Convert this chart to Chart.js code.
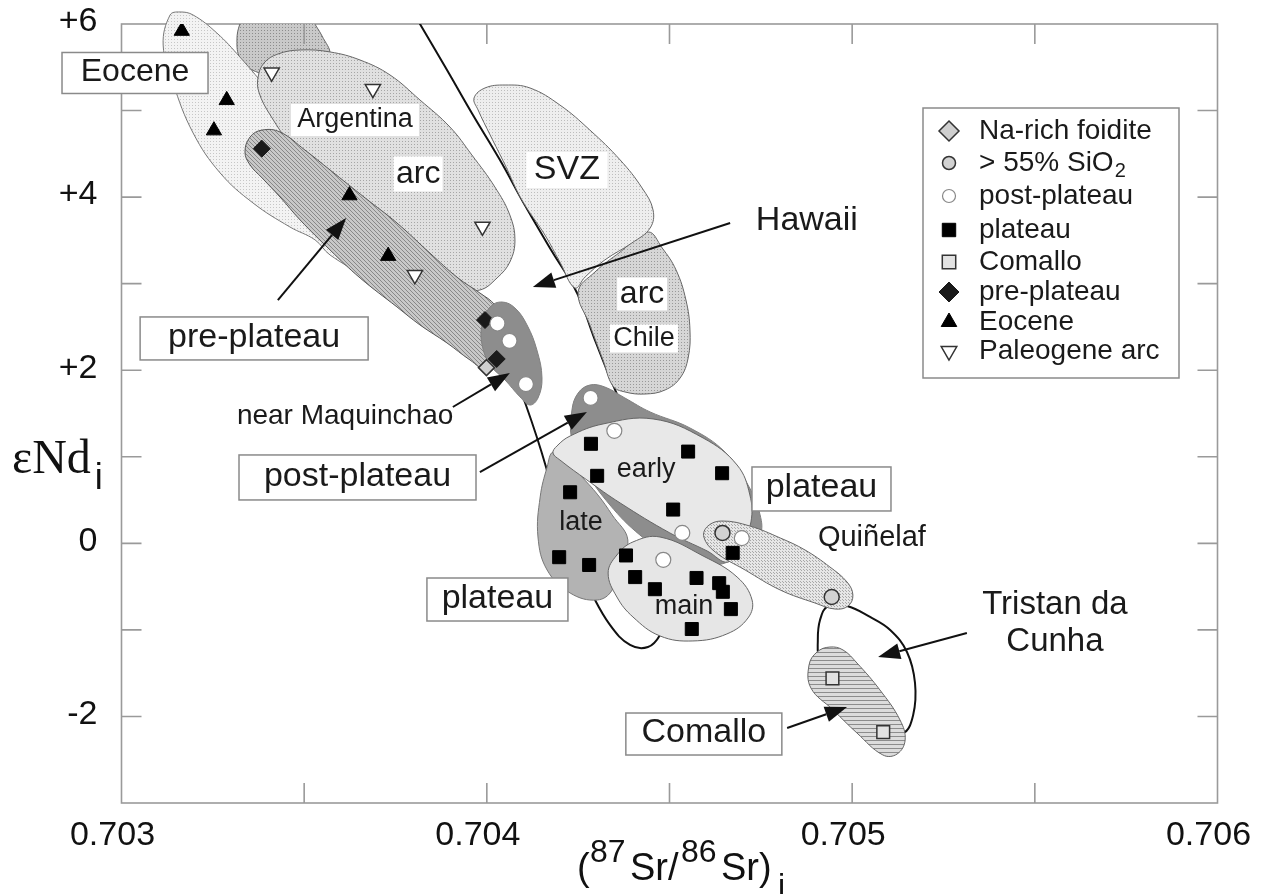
<!DOCTYPE html>
<html>
<head>
<meta charset="utf-8">
<script src="https://cdn.jsdelivr.net/npm/chart.js@4.4.0/dist/chart.umd.min.js"></script>
<style>
  html, body { margin: 0; padding: 0; background: #fff; }
  #wrap { width: 1267px; height: 894px; }
</style>
</head>
<body>
<div id="wrap"><canvas id="c" width="1267" height="894"></canvas></div>
<script>
// ---------- axis ticks ----------
const xTickValues = [0.703, 0.7035, 0.704, 0.7045, 0.705, 0.7055, 0.706];
const xTickLabeled = [0.703, 0.704, 0.705, 0.706];
const yTickValues = [-3, -2, -1, 0, 1, 2, 3, 4, 5, 6];
const yTickLabeled = [-2, 0, 2, 4, 6];

// ---------- samples: (87Sr/86Sr)i and eNd_i ----------
const eoceneSr = [0.703165, 0.703288, 0.703253, 0.703624, 0.70373];
const eoceneNd = [5.92, 5.12, 4.77, 4.02, 3.32];
const paleogeneArcSr = [0.703411, 0.703688, 0.703803, 0.703988];
const paleogeneArcNd = [5.44, 5.25, 3.10, 3.66];
const prePlateauSr = [0.703384, 0.703995, 0.704027];
const prePlateauNd = [4.56, 2.58, 2.13];
const foiditeSr = [0.703999];
const foiditeNd = [2.03];
const postPlateauSr = [0.704029, 0.704062, 0.704107, 0.704284, 0.704349, 0.704535, 0.704483, 0.704698];
const postPlateauNd = [2.54, 2.34, 1.84, 1.68, 1.30, 0.12, -0.19, 0.06];
const silicicSr = [0.704645, 0.704944];
const silicicNd = [0.12, -0.62];
const plateauSr = [0.704285, 0.704551, 0.704302, 0.704644, 0.704228, 0.70451, 0.704673, 0.704198, 0.70428,
                   0.704381, 0.704406, 0.70446, 0.704574, 0.704636, 0.704646, 0.704668, 0.704561];
const plateauNd = [1.15, 1.06, 0.78, 0.81, 0.59, 0.39, -0.11, -0.16, -0.25,
                   -0.14, -0.39, -0.53, -0.40, -0.46, -0.56, -0.76, -0.99];
const comalloSr = [0.704946, 0.705085];
const comalloNd = [-1.56, -2.18];

// ---------- field outlines ----------
const hawaiiSr = [0.703448, 0.703448, 0.703461, 0.703516, 0.703653, 0.703817, 0.703968, 0.704063, 0.704107, 0.704162,
                  0.704214, 0.704282, 0.704337, 0.704392, 0.704441, 0.704474, 0.704529, 0.704501, 0.704433, 0.70437,
                  0.704343, 0.704296, 0.704247, 0.704176, 0.704104, 0.704036, 0.703962, 0.703891, 0.703817, 0.703762];
const hawaiiNd = [6.393, 6.000, 5.642, 5.180, 4.429, 3.562, 2.696, 2.061, 1.598, 0.882,
                  0.039, -0.539, -0.943, -1.174, -1.198, -1.059, -0.539, 0.270, 1.078, 1.598,
                  1.853, 2.349, 2.892, 3.389, 3.909, 4.429, 4.949, 5.469, 6.000, 6.393];
const upperFieldSr = [0.703344, 0.703324, 0.703316, 0.703324, 0.703357, 0.703434, 0.703543, 0.703571, 0.703549, 0.703524, 0.703516];
const upperFieldNd = [6.162, 6.000, 5.815, 5.607, 5.469, 5.399, 5.469, 5.642, 5.861, 6.046, 6.185];
const eoceneFieldSr = [0.703133, 0.70316, 0.703196, 0.703261, 0.703324, 0.703406, 0.703516, 0.703625, 0.703721, 0.703757,
                       0.703735, 0.703667, 0.703571, 0.70353, 0.703461, 0.70336, 0.70327, 0.703196, 0.703141, 0.703114];
const eoceneFieldNd = [6.104, 6.139, 6.104, 5.896, 5.619, 5.214, 4.660, 4.082, 3.505, 3.181,
                       3.008, 3.100, 3.331, 3.505, 3.655, 3.932, 4.279, 4.741, 5.318, 5.757];
const argArcSr = [0.703374, 0.70339, 0.703428, 0.703489, 0.703571, 0.703653, 0.703735, 0.703817, 0.703899, 0.703959,
                  0.704022, 0.704063, 0.704077, 0.704063, 0.704028, 0.703981, 0.703927, 0.703817, 0.703708, 0.703584,
                  0.703475, 0.703407, 0.703376];
const argArcNd = [5.388, 5.549, 5.653, 5.700, 5.677, 5.584, 5.411, 5.122, 4.810, 4.487,
                  4.117, 3.793, 3.505, 3.250, 3.066, 2.927, 2.962, 3.250, 3.597, 4.082,
                  4.544, 4.949, 5.214];
const chileArcSr = [0.70425, 0.704296, 0.704365, 0.704441, 0.70448, 0.704518, 0.704545, 0.704556,
                    0.704551, 0.704529, 0.704488, 0.704433, 0.704378, 0.704345, 0.704318, 0.704282];
const chileArcNd = [2.904, 3.135, 3.366, 3.597, 3.412, 3.158, 2.811, 2.465,
                    2.141, 1.910, 1.772, 1.725, 1.749, 1.818, 2.118, 2.523];
const svzSr = [0.703965, 0.703995, 0.70405, 0.704118, 0.7042, 0.704282, 0.704365, 0.704425, 0.704455, 0.704447,
               0.704397, 0.704323, 0.704269, 0.704241, 0.7042, 0.704159, 0.704096, 0.70405, 0.704009, 0.703976];
const svzNd = [5.145, 5.261, 5.295, 5.261, 5.064, 4.775, 4.429, 4.105, 3.851, 3.643,
               3.470, 3.274, 3.077, 2.950, 3.250, 3.562, 3.967, 4.371, 4.718, 5.007];
const preFieldSr = [0.703338, 0.703352, 0.703385, 0.703434, 0.703502, 0.703571, 0.703667, 0.703754, 0.703844, 0.703921,
                    0.703981, 0.704022, 0.70405, 0.704036, 0.704001, 0.703954, 0.703891, 0.703817, 0.703754, 0.703653,
                    0.703571, 0.703489, 0.703434, 0.703385, 0.703352];
const preFieldNd = [4.521, 4.695, 4.775, 4.752, 4.544, 4.313, 3.990, 3.701, 3.354, 3.066,
                    2.892, 2.754, 2.523, 2.176, 2.003, 2.118, 2.315, 2.523, 2.731, 3.066,
                    3.389, 3.736, 4.001, 4.221, 4.371];
const maqFieldSr = [0.704009, 0.704042, 0.704077, 0.70411, 0.704137, 0.704151, 0.70414, 0.704118, 0.704091, 0.70405,
                    0.704009, 0.703987, 0.703987];
const maqFieldNd = [2.731, 2.788, 2.719, 2.523, 2.234, 1.910, 1.679, 1.598, 1.691, 1.887,
                    2.061, 2.292, 2.523];
const postFieldSr = [0.704233, 0.70425, 0.704282, 0.704323, 0.704378, 0.704447, 0.704556, 0.704652, 0.704715, 0.704748,
                     0.704748, 0.704707, 0.704652, 0.704583, 0.704501, 0.704419, 0.704337, 0.704269, 0.704233];
const postFieldNd = [1.541, 1.737, 1.829, 1.806, 1.679, 1.518, 1.333, 1.055, 0.674, 0.328,
                     0.096, -0.077, -0.227, -0.250, -0.135, 0.096, 0.443, 0.847, 1.194];
const lateSr = [0.704181, 0.704165, 0.704146, 0.70414, 0.704165, 0.704228, 0.704302, 0.704343, 0.704359, 0.704386,
                0.704343, 0.704304, 0.704255, 0.704214];
const lateNd = [1.055, 0.882, 0.536, 0.073, -0.308, -0.574, -0.655, -0.539, -0.250, 0.039,
                0.328, 0.559, 0.790, 0.963];
const earlySr = [0.704181, 0.704192, 0.704228, 0.704318, 0.704455, 0.704592, 0.704685, 0.70472, 0.704723, 0.704698,
                 0.70466, 0.704603, 0.704501, 0.704365, 0.704274, 0.7042];
const earlyNd = [1.044, 1.125, 1.240, 1.379, 1.437, 1.217, 0.905, 0.559, 0.247, 0.004,
                 -0.216, -0.088, 0.120, 0.466, 0.732, 0.963];
const mainSr = [0.704332, 0.704356, 0.7044, 0.704474, 0.704592, 0.704685, 0.704726, 0.704715, 0.704657, 0.704564,
                0.704474, 0.7044, 0.704356];
const mainNd = [-0.343, -0.135, 0.016, 0.073, -0.146, -0.389, -0.655, -0.862, -1.047, -1.128,
                -1.070, -0.851, -0.620];
const tristanSr = [0.704934, 0.704986, 0.705049, 0.705104, 0.70515, 0.705172, 0.705167, 0.705139, 0.705076, 0.70498,
                   0.704912, 0.704906, 0.704912];
const tristanNd = [-0.724, -0.724, -0.851, -1.001, -1.255, -1.613, -1.983, -2.191, -2.099, -1.752,
                   -1.348, -1.117, -0.886];
const quinelafSr = [0.704594, 0.704605, 0.704644, 0.70472, 0.704803, 0.704871, 0.704939, 0.704986, 0.705002, 0.704989,
                    0.704953, 0.704898, 0.704803, 0.704707, 0.704625];
const quinelafNd = [0.073, 0.200, 0.258, 0.200, 0.062, -0.077, -0.273, -0.447, -0.597, -0.724,
                    -0.759, -0.689, -0.539, -0.308, -0.100];
const comalloFieldSr = [0.704939, 0.704904, 0.704882, 0.704887, 0.704948, 0.705013, 0.705084, 0.705123, 0.705145, 0.705131,
                        0.705076, 0.705013, 0.704975];
const comalloFieldNd = [-1.198, -1.255, -1.405, -1.671, -1.925, -2.191, -2.445, -2.434, -2.272, -2.041,
                        -1.694, -1.382, -1.232];

// ---------- annotations (positions in data units) ----------
const boxedLabels = [
  { text: 'Eocene',       at: [0.703037, 5.434],  size: 32, w: 146, h: 41 },
  { text: 'pre-plateau',  at: [0.703363, 2.367],  size: 34, w: 228, h: 43 },
  { text: 'post-plateau', at: [0.703646, 0.761],  size: 34, w: 237, h: 45 },
  { text: 'plateau',      at: [0.704916, 0.628],  size: 34, w: 139, h: 44 },
  { text: 'plateau',      at: [0.704029, -0.649], size: 34, w: 141, h: 43 },
  { text: 'Comallo',      at: [0.704594, -2.203], size: 34, w: 156, h: 42 }
];
const plainLabels = [
  { text: 'Argentina',       at: [0.703639, 4.891],  size: 27, bg: [128, 32] },
  { text: 'arc',             at: [0.703812, 4.267],  size: 32, bg: [49, 35] },
  { text: 'SVZ',             at: [0.704219, 4.313],  size: 34, bg: [81, 36] },
  { text: 'Hawaii',          at: [0.704876, 3.724],  size: 34 },
  { text: 'arc',             at: [0.704425, 2.881],  size: 32, bg: [50, 33] },
  { text: 'Chile',           at: [0.70443, 2.366],   size: 27, bg: [68, 28] },
  { text: 'near Maquinchao', at: [0.703612, 1.471],  size: 28 },
  { text: 'early',           at: [0.704436, 0.847],  size: 27 },
  { text: 'late',            at: [0.704258, 0.235],  size: 27 },
  { text: 'main',            at: [0.70454, -0.735],  size: 27 },
  { text: 'Quiñelaf',        at: [0.705054, 0.062],  size: 29 },
  { text: 'Tristan da',      at: [0.705555, -0.712], size: 33 },
  { text: 'Cunha',           at: [0.705555, -1.140], size: 33 }
];
const arrows = [
  { from: [0.703428, 2.811],  to: [0.703615, 3.759] },
  { from: [0.704666, 3.701],  to: [0.704126, 2.962] },
  { from: [0.703907, 1.575],  to: [0.704063, 1.968] },
  { from: [0.703981, 0.824],  to: [0.704274, 1.518] },
  { from: [0.705314, -1.036], to: [0.705071, -1.313] },
  { from: [0.704822, -2.133], to: [0.704986, -1.891] }
];

// ---------- drawing setup ----------
const SANS = "'Liberation Sans', Arial, Helvetica, sans-serif";
const SERIF = "'Liberation Serif', 'Times New Roman', serif";
const canvas = document.getElementById('c');
const ctx2d = canvas.getContext('2d');

function tile(size, bg, fg, paint) {
  const c = document.createElement('canvas');
  c.width = size; c.height = size;
  const t = c.getContext('2d');
  t.fillStyle = bg; t.fillRect(0, 0, size, size);
  t.fillStyle = fg; paint(t, size);
  return ctx2d.createPattern(c, 'repeat');
}
const dots = (t) => t.fillRect(0, 0, 1, 1);
const diag = (t, s) => { for (let i = 0; i < s; i++) t.fillRect(i, i, 1, 1); };
const horiz = (t, s) => t.fillRect(0, 0, s, 1);
const cross = (t) => { t.fillRect(0, 0, 1, 1); t.fillRect(2, 2, 1, 1); };

const zip = (xs, ys) => xs.map((x, i) => ({ x, y: ys[i] }));

function field(label, xs, ys, fillStyle, border, width, extra) {
  return Object.assign({
    label, data: zip(xs, ys), closed: true, areaFill: fillStyle,
    showLine: true, pointRadius: 0, tension: 0.4, capBezierPoints: false,
    borderColor: border, borderWidth: width, fill: false
  }, extra || {});
}
function samples(label, xs, ys, style, radius, fillColor, strokeColor, strokeWidth, extra) {
  return Object.assign({
    label, data: zip(xs, ys), showLine: false,
    pointStyle: style, pointRadius: radius, pointBackgroundColor: fillColor,
    pointBorderColor: strokeColor, pointBorderWidth: strokeWidth, order: 0
  }, extra || {});
}

const fields = [
  field('Hawaii', hawaiiSr, hawaiiNd, null, '#111', 2),
  field('upper', upperFieldSr, upperFieldNd, tile(3, '#c9c9c9', '#8c8c8c', dots), '#666', 1),
  field('Eocene field', eoceneFieldSr, eoceneFieldNd, tile(3, '#f3f3f3', '#c6c6c6', dots), '#777', 1, { clip: false }),
  field('Argentina arc', argArcSr, argArcNd, tile(3, '#e0e0e0', '#a6a6a6', dots), '#666', 1),
  field('Chile arc', chileArcSr, chileArcNd, tile(3, '#d6d6d6', '#999', dots), '#666', 1),
  field('SVZ', svzSr, svzNd, tile(3, '#eeeeee', '#bdbdbd', dots), '#666', 1),
  field('pre-plateau field', preFieldSr, preFieldNd, tile(4, '#c8c8c8', '#888', diag), '#555', 1),
  field('near Maquinchao', maqFieldSr, maqFieldNd, '#8d8d8d', '#808080', 1),
  field('post-plateau field', postFieldSr, postFieldNd, '#8d8d8d', '#808080', 1),
  field('late', lateSr, lateNd, '#b3b3b3', '#777', 1),
  field('early', earlySr, earlyNd, '#e8e8e8', '#666', 1),
  field('main', mainSr, mainNd, '#e6e6e6', '#666', 1),
  field('Tristan da Cunha', tristanSr, tristanNd, null, '#111', 2),
  field('Quiñelaf', quinelafSr, quinelafNd, tile(3, '#e6e6e6', '#a8a8a8', cross), '#666', 1),
  field('Comallo field', comalloFieldSr, comalloFieldNd, tile(4, '#dcdcdc', '#8c8c8c', horiz), '#666', 1)
];
fields.forEach((f, i) => { f.order = 100 - i; });

const sampleSets = [
  samples('Na-rich foidite', foiditeSr, foiditeNd, 'rectRot', 8, '#cfcfcf', '#333', 1.5, { legendRow: 0 }),
  samples('> 55% SiO2', silicicSr, silicicNd, 'circle', 7.5, '#d2d2d2', '#333', 1.5, { legendRow: 1 }),
  samples('post-plateau', postPlateauSr, postPlateauNd, 'circle', 7.5, '#ffffff', '#888', 1.2, { legendRow: 2 }),
  samples('plateau', plateauSr, plateauNd, 'rect', 9.2, '#000', '#000', 1, { legendRow: 3 }),
  samples('Comallo', comalloSr, comalloNd, 'rect', 9, '#e2e2e2', '#333', 1.5, { legendRow: 4 }),
  samples('pre-plateau', prePlateauSr, prePlateauNd, 'rectRot', 8.5, '#1a1a1a', '#1a1a1a', 1, { legendRow: 5 }),
  samples('Eocene', eoceneSr, eoceneNd, 'triangle', 8.8, '#000', '#000', 1, { legendRow: 6 }),
  samples('Paleogene arc', paleogeneArcSr, paleogeneArcNd, 'triangle', 8.8, '#fff', '#333', 1.5, { legendRow: 7, pointRotation: 180 })
];

// closed outlines: loop the line elements and fill them with their pattern
const closedFields = {
  id: 'closedFields',
  afterDatasetsUpdate(chart) {
    chart.data.datasets.forEach((ds, i) => {
      if (!ds.closed) return;
      const line = chart.getDatasetMeta(i).dataset;
      if (!line) return;
      line._loop = true;
      line._fullLoop = true;
      line._segments = undefined;
      line._path = undefined;
      line._pointsUpdated = false;
    });
  },
  beforeDatasetDraw(chart, args) {
    const ds = chart.data.datasets[args.index];
    if (!ds.closed || !ds.areaFill) return;
    const line = args.meta.dataset;
    const a = chart.chartArea;
    const ctx = chart.ctx;
    line.updateControlPoints(a, 'x');
    ctx.save();
    if (ds.clip !== false) {
      ctx.beginPath();
      ctx.rect(a.left, a.top, a.right - a.left, a.bottom - a.top);
      ctx.clip();
    }
    ctx.beginPath();
    line.path(ctx);
    ctx.closePath();
    ctx.fillStyle = ds.areaFill;
    ctx.fill();
    ctx.restore();
  }
};

// plot frame (under the fields) and inward tick marks (over them)
const frame = {
  id: 'frame',
  beforeDatasetsDraw(chart) {
    const { ctx, chartArea: a } = chart;
    ctx.save();
    ctx.strokeStyle = '#9a9a9a';
    ctx.lineWidth = 1.6;
    ctx.strokeRect(a.left, a.top, a.right - a.left, a.bottom - a.top);
    ctx.restore();
  },
  afterDatasetsDraw(chart) {
    const { ctx, chartArea: a, scales } = chart;
    const L = 20;
    ctx.save();
    ctx.strokeStyle = '#9a9a9a';
    ctx.lineWidth = 1.6;
    ctx.beginPath();
    scales.x.ticks.forEach(t => {
      if (t.value <= scales.x.min || t.value >= scales.x.max) return;
      const px = scales.x.getPixelForValue(t.value);
      ctx.moveTo(px, a.bottom); ctx.lineTo(px, a.bottom - L);
      ctx.moveTo(px, a.top); ctx.lineTo(px, a.top + L);
    });
    scales.y.ticks.forEach(t => {
      if (t.value <= scales.y.min || t.value >= scales.y.max) return;
      const py = scales.y.getPixelForValue(t.value);
      ctx.moveTo(a.left, py); ctx.lineTo(a.left + L, py);
      ctx.moveTo(a.right, py); ctx.lineTo(a.right - L, py);
    });
    ctx.stroke();
    ctx.restore();
  }
};

function drawMarker(ctx, style, x, y, r, rot) {
  ctx.beginPath();
  if (style === 'circle') {
    ctx.arc(x, y, r, 0, Math.PI * 2);
  } else if (style === 'rect') {
    const s = r * Math.SQRT1_2;
    ctx.rect(x - s, y - s, 2 * s, 2 * s);
  } else if (style === 'rectRot') {
    ctx.moveTo(x, y - r); ctx.lineTo(x + r, y); ctx.lineTo(x, y + r); ctx.lineTo(x - r, y); ctx.closePath();
  } else if (style === 'triangle') {
    let ang = (rot || 0) * Math.PI / 180;
    for (let k = 0; k < 3; k++) {
      const px = x + Math.sin(ang) * r, py = y - Math.cos(ang) * r;
      if (k === 0) ctx.moveTo(px, py); else ctx.lineTo(px, py);
      ang += Math.PI * 2 / 3;
    }
    ctx.closePath();
  }
  ctx.fill();
  ctx.stroke();
}

function arrowTo(ctx, x1, y1, x2, y2) {
  const ang = Math.atan2(y2 - y1, x2 - x1), L = 22, W = 8;
  const bx = x2 - L * Math.cos(ang), by = y2 - L * Math.sin(ang);
  ctx.beginPath(); ctx.moveTo(x1, y1); ctx.lineTo(bx, by); ctx.stroke();
  ctx.beginPath();
  ctx.moveTo(x2, y2);
  ctx.lineTo(bx + W * Math.sin(ang), by - W * Math.cos(ang));
  ctx.lineTo(bx - W * Math.sin(ang), by + W * Math.cos(ang));
  ctx.closePath(); ctx.fill();
}

// labels, arrows, legend and axis titles
const overlay = {
  id: 'overlay',
  afterDatasetsDraw(chart) {
    const { ctx, scales } = chart;
    const X = v => scales.x.getPixelForValue(v);
    const Y = v => scales.y.getPixelForValue(v);
    ctx.save();
    ctx.textAlign = 'center';
    ctx.textBaseline = 'middle';

    // arrows
    ctx.strokeStyle = '#111'; ctx.fillStyle = '#111'; ctx.lineWidth = 2;
    arrows.forEach(a => arrowTo(ctx, X(a.from[0]), Y(a.from[1]), X(a.to[0]), Y(a.to[1])));

    // plain labels (some on white patches)
    plainLabels.forEach(l => {
      const x = X(l.at[0]), y = Y(l.at[1]);
      if (l.bg) { ctx.fillStyle = '#fff'; ctx.fillRect(x - l.bg[0] / 2, y - l.bg[1] / 2, l.bg[0], l.bg[1]); }
      ctx.fillStyle = '#1a1a1a';
      ctx.font = l.size + 'px ' + SANS;
      ctx.fillText(l.text, x, y);
    });

    // boxed labels
    boxedLabels.forEach(l => {
      const x = X(l.at[0]), y = Y(l.at[1]);
      ctx.fillStyle = '#fff';
      ctx.fillRect(x - l.w / 2, y - l.h / 2, l.w, l.h);
      ctx.strokeStyle = '#8a8a8a'; ctx.lineWidth = 1.5;
      ctx.strokeRect(x - l.w / 2, y - l.h / 2, l.w, l.h);
      ctx.fillStyle = '#1a1a1a';
      ctx.font = l.size + 'px ' + SANS;
      ctx.fillText(l.text, x, y - 1);
    });

    // legend
    const lg = { x: 923, y: 108, w: 256, h: 270, markerX: 949, textX: 979, rows: [131, 163, 196, 230, 262, 292, 322, 351] };
    ctx.fillStyle = '#fff';
    ctx.fillRect(lg.x, lg.y, lg.w, lg.h);
    ctx.strokeStyle = '#8a8a8a'; ctx.lineWidth = 1.5;
    ctx.strokeRect(lg.x, lg.y, lg.w, lg.h);
    ctx.textAlign = 'left';
    chart.data.datasets.forEach(ds => {
      if (ds.legendRow === undefined) return;
      const y = lg.rows[ds.legendRow];
      ctx.fillStyle = ds.pointBackgroundColor;
      ctx.strokeStyle = ds.pointBorderColor;
      ctx.lineWidth = ds.pointBorderWidth;
      const r = ds.pointStyle === 'circle' ? 6.5 : ds.pointStyle === 'rectRot' ? 10 : ds.pointStyle === 'rect' ? 9.5 : 9;
      drawMarker(ctx, ds.pointStyle, lg.markerX, y, r, ds.pointRotation);
      ctx.fillStyle = '#1a1a1a';
      ctx.font = '28px ' + SANS;
      const m = /^(.*SiO)(\d)$/.exec(ds.label);
      if (m) {
        ctx.fillText(m[1], lg.textX, y);
        const w = ctx.measureText(m[1]).width;
        ctx.font = '20px ' + SANS;
        ctx.fillText(m[2], lg.textX + w + 1, y + 8);
      } else {
        ctx.fillText(ds.label, lg.textX, y);
      }
    });
    ctx.restore();
  },
  afterDraw(chart) {
    const ctx = chart.ctx;
    ctx.save();
    ctx.fillStyle = '#111';
    ctx.textAlign = 'left';
    ctx.textBaseline = 'alphabetic';
    // y title: eNd with subscript i
    ctx.font = '48px ' + SERIF;
    ctx.fillText('\u03B5Nd', 12, 473);
    const w = ctx.measureText('\u03B5Nd').width;
    ctx.font = '36px ' + SANS;
    ctx.fillText('i', 12 + w + 4, 489);
    // x title: (87Sr/86Sr)i
    const x0 = 577;
    const parts = [
      { t: '(', dx: 0, base: 880, size: 38 },
      { t: '87', dx: 13, base: 862, size: 32 },
      { t: 'Sr/', dx: 53, base: 880, size: 38 },
      { t: '86', dx: 104, base: 862, size: 32 },
      { t: 'Sr)', dx: 144, base: 880, size: 38 },
      { t: 'i', dx: 201, base: 896, size: 32 }
    ];
    parts.forEach(p => {
      ctx.font = p.size + 'px ' + SANS;
      ctx.fillText(p.t, x0 + p.dx, p.base);
    });
    ctx.restore();
  }
};

new Chart(canvas, {
  type: 'scatter',
  data: { datasets: [...sampleSets, ...fields] },
  options: {
    responsive: false,
    animation: false,
    events: [],
    layout: { padding: { top: 24, right: 49.5, left: 0, bottom: 0 } },
    plugins: { legend: { display: false }, tooltip: { enabled: false } },
    scales: {
      x: {
        type: 'linear', min: 0.703, max: 0.706,
        afterFit(s) { s.height = 91; s.paddingLeft = 0; s.paddingRight = 0; },
        afterBuildTicks(s) { s.ticks = xTickValues.map(v => ({ value: v })); },
        grid: { display: false }, border: { display: false },
        ticks: {
          padding: 4, labelOffset: -9, maxRotation: 0, autoSkip: false, color: '#111',
          font: { family: SANS, size: 34 },
          callback: v => xTickLabeled.includes(v) ? v.toFixed(3) : ''
        }
      },
      y: {
        type: 'linear', min: -3, max: 6,
        afterFit(s) { s.width = 121.5; s.paddingTop = 0; s.paddingBottom = 0; },
        afterBuildTicks(s) { s.ticks = yTickValues.map(v => ({ value: v })); },
        grid: { display: false }, border: { display: false },
        ticks: {
          padding: 16, labelOffset: -2, autoSkip: false, color: '#111',
          font: { family: SANS, size: 34 },
          callback: v => yTickLabeled.includes(v) ? (v > 0 ? '+' + v : String(v)) : ''
        }
      }
    }
  },
  plugins: [closedFields, frame, overlay]
});
</script>
</body>
</html>
